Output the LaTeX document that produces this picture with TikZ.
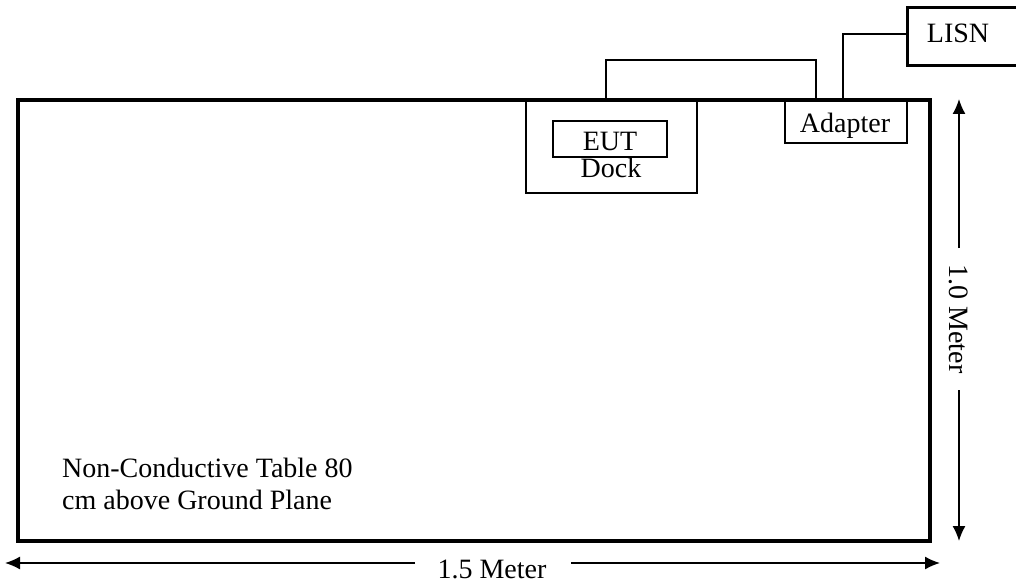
\documentclass[tikz,border=0pt]{standalone}
\usepackage{fontspec}
\setmainfont{Liberation Serif}
\usetikzlibrary{arrows.meta}
\begin{document}
\begin{tikzpicture}[x=1pt,y=-1pt,
  txt/.style={font=\fontsize{28}{32}\selectfont, inner sep=0pt, anchor=base},
  boxthin/.style={draw, line width=1.5pt, inner sep=0pt, anchor=center},
  wire/.style={line width=1.5pt},
  arr/.style={line width=1.5pt, -{Latex[length=15pt,width=13pt]}}]
\useasboundingbox (0,0) rectangle (1016,585);
\clip (0,0) rectangle (1016,585);
% table
\node[draw, line width=4pt, minimum width=912pt, minimum height=441pt, inner sep=0pt] (table) at (474,320.5) {};
% dock & EUT
\node[boxthin, minimum width=171pt, minimum height=93pt] (dock) at (611.5,146.5) {};
\node[boxthin, line width=2pt, minimum width=114pt, minimum height=36pt] (eut) at (610,139) {};
\node[txt] (eutlabel) at (610,151) {EUT};
\node[txt] (docklabel) at (611,178) {Dock};
% adapter
\node[boxthin, minimum width=122pt, minimum height=43pt] (adapter) at (846,121.5) {};
\node[txt] (adapterlabel) at (845,133) {Adapter};
% LISN
\node[draw, line width=3pt, minimum width=113pt, minimum height=58pt, inner sep=0pt] (lisn) at (963.5,37) {};
\node[txt] (lisnlabel) at (958,43) {LISN};
% wires
\draw[wire] ([xshift=-5.5pt]dock.north) -- ++(0,-39) -| ([xshift=-30pt]adapter.north);
\draw[wire] ([xshift=-3pt]adapter.north) |- ([yshift=3pt]lisn.west);
% table text
\node[txt, anchor=base west, align=left] (tabletext) at (62,509) {Non-Conductive Table 80\\cm above Ground Plane};
% horizontal dimension
\coordinate (hL) at (5,563);
\coordinate (hR) at (940,563);
\coordinate (hgl) at (415,563);
\coordinate (hgr) at (571,563);
\node[txt] (hdim) at (492,578) {1.5 Meter};
\draw[arr] (hgl) -- (hL);
\draw[arr] (hgr) -- (hR);
% vertical dimension
\coordinate (vT) at (959,99);
\coordinate (vB) at (959,541);
\coordinate (vgt) at (959,248);
\coordinate (vgb) at (959,390);
\node[font=\fontsize{28}{32}\selectfont, inner sep=0pt, rotate=-90] (vdim) at (959,319) {1.0 Meter};
\draw[arr] (vgt) -- (vT);
\draw[arr] (vgb) -- (vB);
\end{tikzpicture}
\end{document}
